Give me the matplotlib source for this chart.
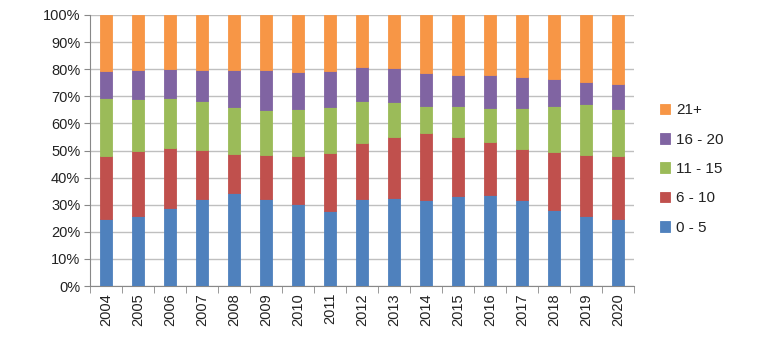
import matplotlib.pyplot as plt
import numpy as np

years = [str(y) for y in range(2004, 2021)]

# cumulative tops (percent)
top_0_5 = [24.9, 25.9, 28.8, 32.0, 34.2, 32.0, 30.2, 27.5, 32.0, 32.4, 31.9, 33.3, 33.7, 31.7, 28.1, 25.7, 24.6]
top_6_10 = [47.9, 49.8, 51.1, 50.2, 48.8, 48.4, 47.9, 49.1, 52.6, 55.0, 56.3, 55.0, 53.2, 50.5, 49.5, 48.2, 47.9]
top_11_15 = [69.5, 69.1, 69.5, 68.3, 66.0, 64.8, 65.3, 66.0, 68.3, 67.9, 66.5, 66.5, 65.5, 65.5, 66.5, 67.2, 65.4]
top_16_20 = [79.3, 79.6, 80.0, 79.8, 79.6, 79.6, 79.1, 79.3, 80.8, 80.3, 78.6, 77.7, 77.7, 77.2, 76.4, 75.4, 74.6]

labels = ['0 - 5', '6 - 10', '11 - 15', '16 - 20', '21+']
colors = ['#4F81BD', '#C0504D', '#9BBB59', '#8064A2', '#F79646']


def main():
    plt.rcParams['font.family'] = ['Liberation Sans', 'DejaVu Sans']

    tops = np.array([top_0_5, top_6_10, top_11_15, top_16_20, [100.0] * len(years)])
    bottoms = np.vstack([np.zeros(len(years)), tops[:-1]])
    heights = tops - bottoms

    fig = plt.figure(figsize=(7.59, 3.39), dpi=100)
    ax = fig.add_axes([90 / 759, 53 / 339, 544 / 759, 271 / 339])

    x = np.arange(len(years))
    handles = []
    for i in range(5):
        b = ax.bar(x, heights[i], bottom=bottoms[i], width=0.39, color=colors[i],
                   edgecolor=colors[i], linewidth=0.6, label=labels[i], zorder=3)
        handles.append(b)

    ax.set_xlim(-0.5, len(years) - 0.5)
    ax.set_ylim(0, 100)
    ax.set_yticks(np.arange(0, 101, 10))
    ax.set_yticklabels([f'{v}%' for v in range(0, 101, 10)], fontsize=10.5, color='#222222')
    ax.yaxis.grid(True, color='#BFBFBF', linewidth=1.0, zorder=0)
    ax.set_axisbelow(True)

    ax.set_xticks(x)
    ax.set_xticklabels(years, rotation=90, fontsize=10.5, color='#222222')
    ax.set_xticks(np.arange(-0.5, len(years), 1), minor=True)
    ax.tick_params(axis='x', which='major', length=0, pad=5)
    ax.tick_params(axis='x', which='minor', length=5, color='#888888')
    ax.tick_params(axis='y', length=4, color='#888888', pad=3)

    for s in ['top', 'right']:
        ax.spines[s].set_visible(False)
    ax.spines['left'].set_color('#888888')
    ax.spines['bottom'].set_color('#888888')

    fig.legend(handles[::-1], labels[::-1], loc='center left',
               bbox_to_anchor=(646 / 759, (339 - 169) / 339), frameon=False,
               fontsize=11, handlelength=0.7, handleheight=0.7,
               handletextpad=0.35, labelspacing=1.0, labelcolor='#222222')

    plt.savefig('out.png', dpi=100)


if __name__ == "__main__":
    main()
